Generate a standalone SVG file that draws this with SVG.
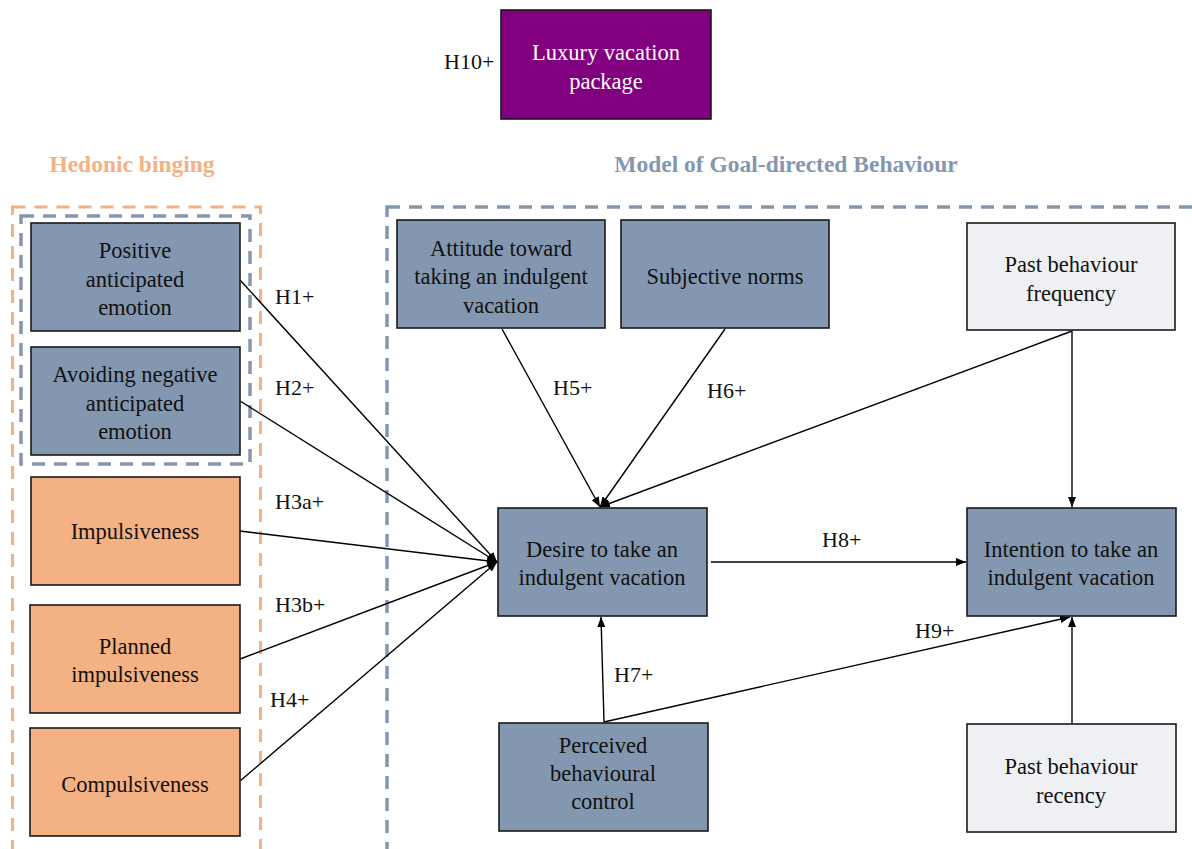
<svg xmlns="http://www.w3.org/2000/svg" width="1192" height="849" viewBox="0 0 1192 849">
<style>
.t{font-family:"Liberation Serif","Times New Roman",serif;font-size:22.5px;fill:#111;text-anchor:middle}
.w{fill:#fff}
.lbl{font-family:"Liberation Serif","Times New Roman",serif;font-size:22px;fill:#111}
.ttl{font-family:"Liberation Serif","Times New Roman",serif;font-size:23.5px;font-weight:bold;text-anchor:middle}
.b{fill:#8497B0;stroke:#1a1a1a;stroke-width:1.6}
.o{fill:#F4B183;stroke:#1a1a1a;stroke-width:1.6}
.g{fill:#EFF0F4;stroke:#1a1a1a;stroke-width:1.6}
.c{stroke:#000;stroke-width:1.4;fill:none;marker-end:url(#ah)}
</style>
<defs>
<marker id="ah" markerWidth="10" markerHeight="8" refX="10" refY="4" orient="auto" markerUnits="userSpaceOnUse">
<path d="M0,0 L10,4 L0,8 z" fill="#000"/>
</marker>
</defs>
<rect width="1192" height="849" fill="#fff"/>

<g id="groups">
<rect x="12.5" y="207" width="248" height="680" fill="none" stroke="#F4B183" stroke-width="3" stroke-dasharray="13 9"/>
<rect x="21" y="216" width="229" height="248" fill="none" stroke="#8497B0" stroke-width="3.5" stroke-dasharray="13 9"/>
<rect x="387" y="207" width="900" height="700" fill="none" stroke="#8497B0" stroke-width="3.5" stroke-dasharray="13 9"/>
<text class="ttl" x="132" y="172" fill="#F4B183">Hedonic binging</text>
<text class="ttl" x="786" y="172" fill="#8497B0">Model of Goal-directed  Behaviour</text>
</g>

<g id="connectors">
<line class="c" x1="240" y1="280" x2="497" y2="562"/>
<line class="c" x1="240" y1="401" x2="497" y2="562"/>
<line class="c" x1="240" y1="531" x2="497" y2="562"/>
<line class="c" x1="240" y1="659" x2="497" y2="562"/>
<line class="c" x1="240" y1="781" x2="497" y2="562"/>
<line class="c" x1="502" y1="329" x2="600" y2="507"/>
<line class="c" x1="725" y1="329" x2="600" y2="507"/>
<line class="c" x1="1072" y1="331" x2="600" y2="507"/>
<line class="c" x1="1072" y1="331" x2="1072" y2="507"/>
<line class="c" x1="711" y1="562" x2="966" y2="562"/>
<line class="c" x1="604" y1="722" x2="601" y2="617"/>
<line class="c" x1="604" y1="722" x2="1070" y2="617"/>
<line class="c" x1="1072" y1="723" x2="1072" y2="617"/>
<text class="lbl" x="275" y="304">H1+</text>
<text class="lbl" x="275" y="395">H2+</text>
<text class="lbl" x="275" y="509">H3a+</text>
<text class="lbl" x="275" y="612">H3b+</text>
<text class="lbl" x="270" y="707">H4+</text>
<text class="lbl" x="553" y="395">H5+</text>
<text class="lbl" x="707" y="398">H6+</text>
<text class="lbl" x="614" y="682">H7+</text>
<text class="lbl" x="822" y="547">H8+</text>
<text class="lbl" x="915" y="638">H9+</text>
</g>

<g id="luxury">
<rect x="501" y="10" width="210" height="109" fill="#800080" stroke="#1a1a1a" stroke-width="1.6"/>
<text class="t w" x="606" y="60">Luxury  vacation</text>
<text class="t w" x="606" y="89">package</text>
<text class="lbl" x="444" y="69">H10+</text>
</g>

<g id="positive">
<rect class="b" x="31" y="223" width="209" height="108"/>
<text class="t" x="135" y="258">Positive</text>
<text class="t" x="135" y="287">anticipated</text>
<text class="t" x="135" y="315">emotion</text>
</g>

<g id="avoiding">
<rect class="b" x="31" y="347" width="209" height="108"/>
<text class="t" x="135" y="382">Avoiding  negative</text>
<text class="t" x="135" y="411">anticipated</text>
<text class="t" x="135" y="439">emotion</text>
</g>

<g id="impulsiveness">
<rect class="o" x="31" y="477" width="209" height="108"/>
<text class="t" x="135" y="539">Impulsiveness</text>
</g>

<g id="planned">
<rect class="o" x="30" y="605" width="210" height="108"/>
<text class="t" x="135" y="654">Planned</text>
<text class="t" x="135" y="682">impulsiveness</text>
</g>

<g id="compulsiveness">
<rect class="o" x="30" y="728" width="210" height="108"/>
<text class="t" x="135" y="792">Compulsiveness</text>
</g>

<g id="attitude">
<rect class="b" x="397" y="220" width="208" height="108"/>
<text class="t" x="501" y="256">Attitude toward</text>
<text class="t" x="501" y="284">taking an indulgent</text>
<text class="t" x="501" y="313">vacation</text>
</g>

<g id="subjective">
<rect class="b" x="621" y="220" width="208" height="108"/>
<text class="t" x="725" y="284">Subjective norms</text>
</g>

<g id="pastfreq">
<rect class="g" x="967" y="223" width="208" height="107"/>
<text class="t" x="1071" y="272">Past behaviour</text>
<text class="t" x="1071" y="301">frequency</text>
</g>

<g id="desire">
<rect class="b" x="498" y="508" width="209" height="108"/>
<text class="t" x="602" y="557">Desire to take an</text>
<text class="t" x="602" y="585">indulgent  vacation</text>
</g>

<g id="intention">
<rect class="b" x="967" y="508" width="209" height="108"/>
<text class="t" x="1071" y="557">Intention to take an</text>
<text class="t" x="1071" y="585">indulgent  vacation</text>
</g>

<g id="perceived">
<rect class="b" x="499" y="723" width="209" height="108"/>
<text class="t" x="603" y="753">Perceived</text>
<text class="t" x="603" y="781">behavioural</text>
<text class="t" x="603" y="809">control</text>
</g>

<g id="recency">
<rect class="g" x="967" y="724" width="209" height="108"/>
<text class="t" x="1071" y="774">Past behaviour</text>
<text class="t" x="1071" y="803">recency</text>
</g>
</svg>
